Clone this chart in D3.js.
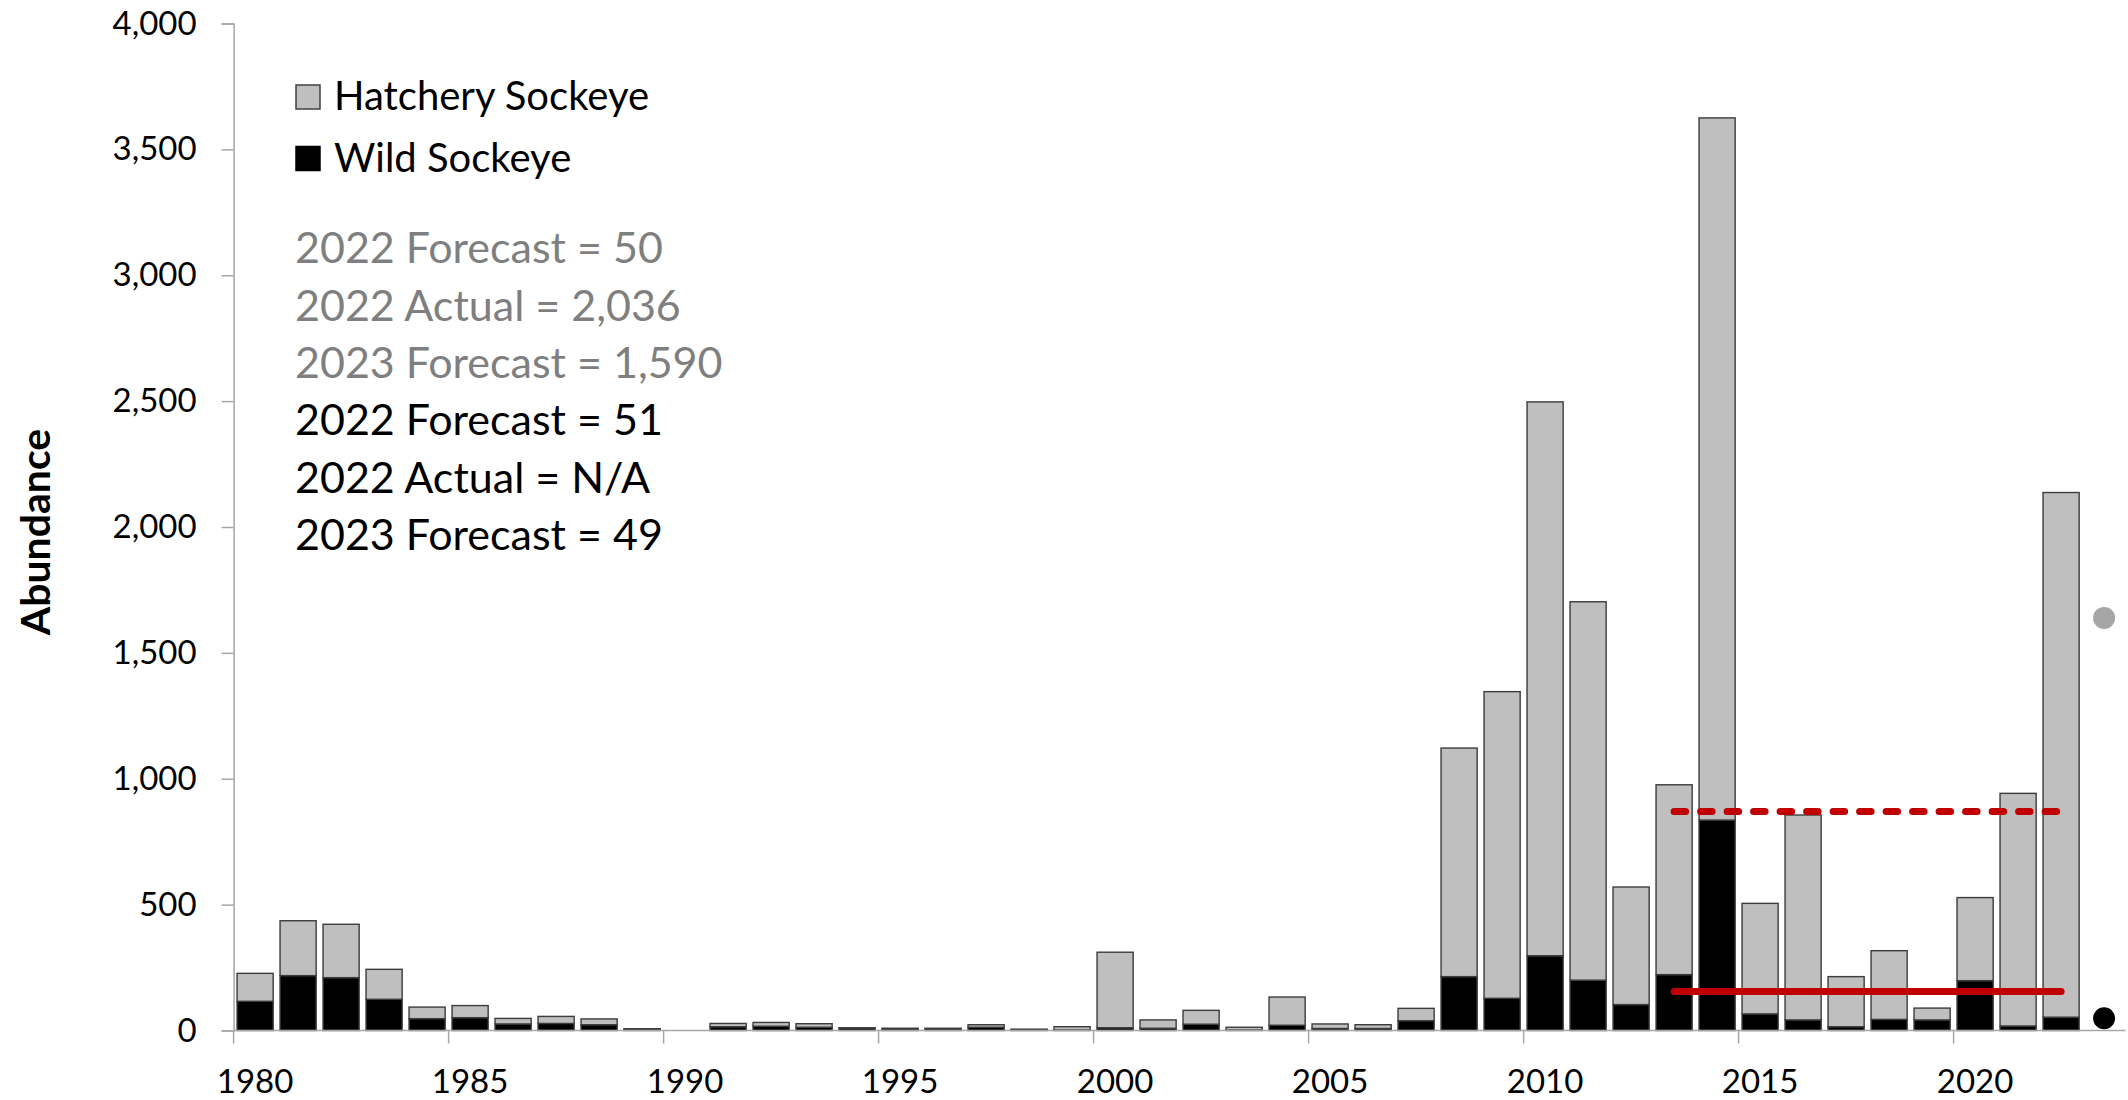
<!DOCTYPE html>
<html>
<head>
<meta charset="utf-8">
<script src="https://cdn.jsdelivr.net/npm/d3@7"></script>
<style>
  body { margin: 0; background: #fff; }
  text { font-family: Lato, "Open Sans", sans-serif; }
</style>
</head>
<body>
<div id="chart"></div>
<script>
var years = d3.range(1980, 2024);   // 1980 .. 2023 (2023 holds only the forecast dots)

// Wild sockeye, 1980-2022
var wild = [116, 218, 210, 124, 47, 51, 26, 28, 23, 6,
            0, 15, 17, 13, 9, 7, 7, 13, 4, 2,
            11, 9, 25, 2, 21, 8, 8, 39, 214, 128,
            297, 200, 103, 222, 836, 66, 42, 15, 44, 42,
            198, 18, 53];
// Hatchery sockeye, 1980-2022
var hatchery = [111, 218, 212, 119, 46, 48, 22, 28, 23, 1,
                0, 13, 15, 14, 2, 2, 2, 10, 1, 13,
                300, 33, 55, 11, 112, 18, 15, 49, 908, 1218,
                2200, 1503, 467, 754, 2789, 439, 814, 199, 273, 47,
                330, 924, 2084];

var forecastYear = 2023;
var forecastWild = 49;
var forecastHatchery = 1590;

// average lines drawn over 2013-2022
var avgYears = [2013, 2022];
var hatcheryAvg = 870;
var wildAvg = 155;

var yTicks = [0, 500, 1000, 1500, 2000, 2500, 3000, 3500, 4000];
var xLabels = [1980, 1985, 1990, 1995, 2000, 2005, 2010, 2015, 2020];

var notesGray = ["2022 Forecast = 50", "2022 Actual = 2,036", "2023 Forecast = 1,590"];
var notesBlack = ["2022 Forecast = 51", "2022 Actual = N/A", "2023 Forecast = 49"];

var svgWidth = 2128;
var svgHeight = 1100;
var margin = { top: 23.5, right: 2.4, bottom: 69.5, left: 233.6 };
var width = svgWidth - margin.left - margin.right;
var height = svgHeight - margin.top - margin.bottom;

var svg = d3.select("#chart")
  .append("svg")
  .attr("width", svgWidth)
  .attr("height", svgHeight);

svg.append("rect").attr("width", svgWidth).attr("height", svgHeight).attr("fill", "#fff");

var chartGroup = svg.append("g")
  .attr("transform", `translate(${margin.left}, ${margin.top})`);

var x = d3.scaleBand()
  .domain(years)
  .range([0, width])
  .paddingInner(0.16)
  .paddingOuter(0.08);

var y = d3.scaleLinear()
  .domain([0, 4000])
  .range([height, 0]);

var axisColor = "#a6a6a6";

// y axis
var leftAxis = d3.axisLeft(y)
  .tickValues(yTicks)
  .tickSize(12)
  .tickPadding(25)
  .tickFormat(d3.format(","));

var yAxisG = chartGroup.append("g").call(leftAxis);
yAxisG.select(".domain").attr("stroke", axisColor).attr("stroke-width", 1.5);
yAxisG.selectAll(".tick line").attr("stroke", axisColor).attr("stroke-width", 1.5);
yAxisG.selectAll(".tick text")
  .attr("font-size", 33)
  .attr("fill", "#000")
  .style("font-family", "Lato");

// stacked bars
var table = years.slice(0, wild.length).map((yr, i) => ({ year: yr, wild: wild[i], hatchery: hatchery[i] }));
var series = d3.stack().keys(["wild", "hatchery"])(table);
var fills = { wild: "#000000", hatchery: "#bfbfbf" };

chartGroup.selectAll("g.layer")
  .data(series)
  .enter()
  .append("g")
  .attr("class", "layer")
  .attr("fill", d => fills[d.key])
  .selectAll("rect")
  .data(d => d.filter(p => p[1] > p[0]))
  .enter()
  .append("rect")
  .attr("x", d => x(d.data.year))
  .attr("width", x.bandwidth())
  .attr("y", d => y(d[1]))
  .attr("height", d => y(d[0]) - y(d[1]))
  .attr("stroke", "#3c3c3c")
  .attr("stroke-width", 1.4);

// x axis: line + boundary ticks every 5 years, labels centred on categories
var half = (x.step() - x.bandwidth()) / 2;
var xAxisG = chartGroup.append("g").attr("transform", `translate(0, ${height})`);
xAxisG.append("line")
  .attr("x1", 0).attr("x2", width)
  .attr("stroke", axisColor).attr("stroke-width", 1.5);
xAxisG.selectAll("line.tick")
  .data(xLabels)
  .enter()
  .append("line")
  .attr("class", "tick")
  .attr("x1", d => x(d) - half)
  .attr("x2", d => x(d) - half)
  .attr("y1", 0).attr("y2", 13)
  .attr("stroke", axisColor).attr("stroke-width", 1.5);
xAxisG.selectAll("text")
  .data(xLabels)
  .enter()
  .append("text")
  .attr("x", d => x(d) + x.bandwidth() / 2)
  .attr("y", 62.5)
  .attr("text-anchor", "middle")
  .attr("font-size", 33)
  .attr("fill", "#000")
  .text(d => d);

// average lines
var red = "#c00000";
var cx = d => x(d) + x.bandwidth() / 2;
chartGroup.append("line")
  .attr("x1", cx(avgYears[0])).attr("x2", cx(avgYears[1]))
  .attr("y1", y(hatcheryAvg)).attr("y2", y(hatcheryAvg))
  .attr("stroke", red).attr("stroke-width", 7)
  .attr("stroke-linecap", "round")
  .attr("stroke-dasharray", "11.5,15");
chartGroup.append("line")
  .attr("x1", cx(avgYears[0])).attr("x2", cx(avgYears[1]))
  .attr("y1", y(wildAvg)).attr("y2", y(wildAvg))
  .attr("stroke", red).attr("stroke-width", 7)
  .attr("stroke-linecap", "round");

// 2023 forecasts
chartGroup.append("circle")
  .attr("cx", cx(forecastYear))
  .attr("cy", y(forecastWild + forecastHatchery))
  .attr("r", 11)
  .attr("fill", "#a6a6a6");
chartGroup.append("circle")
  .attr("cx", cx(forecastYear))
  .attr("cy", y(forecastWild))
  .attr("r", 11)
  .attr("fill", "#000");

// y axis title
svg.append("text")
  .attr("transform", "translate(50, 532) rotate(-90)")
  .attr("text-anchor", "middle")
  .attr("font-size", 41)
  .attr("font-weight", "bold")
  .attr("fill", "#000")
  .text("Abundance");

// legend
var legendItems = [
  { label: "Hatchery Sockeye", fill: "#bfbfbf", stroke: "#404040", top: 85 },
  { label: "Wild Sockeye", fill: "#000", stroke: "#000", top: 146.5 }
];
var legend = svg.append("g");
legend.selectAll("rect")
  .data(legendItems)
  .enter()
  .append("rect")
  .attr("x", 296)
  .attr("y", d => d.top)
  .attr("width", 24)
  .attr("height", 24)
  .attr("fill", d => d.fill)
  .attr("stroke", d => d.stroke)
  .attr("stroke-width", 1.5);
legend.selectAll("text")
  .data(legendItems)
  .enter()
  .append("text")
  .attr("x", 334)
  .attr("y", d => d.top + 25)
  .attr("font-size", 40)
  .attr("fill", "#000")
  .text(d => d.label);

// forecast notes
var notes = notesGray.map(t => ({ t: t, c: "#7f7f7f" }))
  .concat(notesBlack.map(t => ({ t: t, c: "#000" })));
svg.append("g").selectAll("text")
  .data(notes)
  .enter()
  .append("text")
  .attr("x", 295)
  .attr("y", (d, i) => 263.3 + i * 57.35)
  .attr("font-size", 43)
  .attr("fill", d => d.c)
  .text(d => d.t);
</script>
</body>
</html>
